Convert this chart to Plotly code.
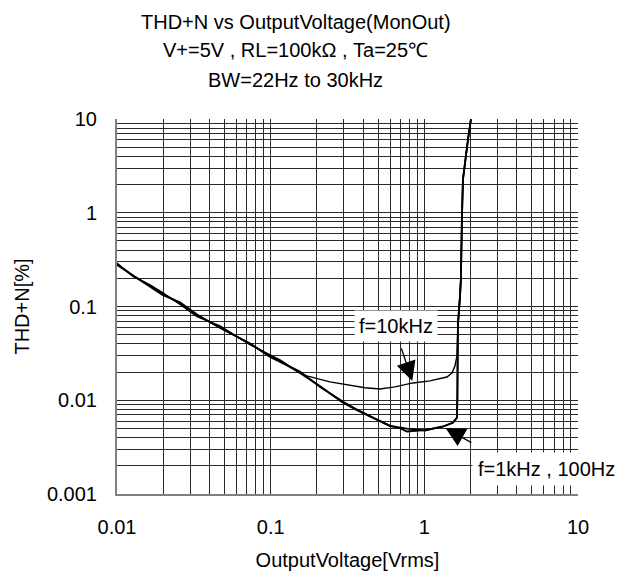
import numpy as np
import plotly.graph_objects as go

# Output voltage [Vrms] and THD+N [%] for each test frequency
v_1k = [0.01, 0.0127, 0.0164, 0.0199, 0.0257, 0.0332, 0.0468, 0.0733, 0.099, 0.115,
        0.155, 0.209, 0.295, 0.381, 0.491, 0.597, 0.694, 0.770, 1.01, 1.32,
        1.535, 1.63, 1.64, 1.654, 1.704, 1.73, 1.756, 1.783, 1.922, 2.01]
thd_1k = [0.285, 0.213, 0.167, 0.137, 0.108, 0.080, 0.060, 0.0397, 0.0296, 0.0262,
          0.0195, 0.0142, 0.0094, 0.00755, 0.00622, 0.00537, 0.00512, 0.00499, 0.00476, 0.00525,
          0.00578, 0.00653, 0.0106, 0.063, 0.122, 0.198, 0.854, 2.26, 5.99, 9.9]

v_100 = [0.01, 0.0127, 0.0164, 0.0199, 0.0257, 0.0332, 0.0468, 0.0733, 0.099, 0.115,
         0.155, 0.212, 0.295, 0.381, 0.491, 0.597, 0.694, 0.770, 1.01, 1.32,
         1.535, 1.63, 1.64, 1.654, 1.704, 1.73, 1.756, 1.783, 1.922, 2.01]
thd_100 = [0.278, 0.216, 0.164, 0.132, 0.111, 0.082, 0.059, 0.0405, 0.0290, 0.0256,
           0.0202, 0.0137, 0.0097, 0.00765, 0.00615, 0.00530, 0.00505, 0.00464, 0.00480, 0.00522,
           0.00575, 0.00650, 0.0106, 0.063, 0.122, 0.198, 0.854, 2.26, 5.99, 9.9]

v_10k = [0.01, 0.0127, 0.0164, 0.0199, 0.0257, 0.0332, 0.0468, 0.0733, 0.099, 0.115,
         0.155, 0.172, 0.243, 0.314, 0.411, 0.514, 0.644, 0.843, 1.087, 1.403,
         1.512, 1.582, 1.63, 1.654, 1.704, 1.73, 1.756, 1.783, 1.922, 2.01]
thd_10k = [0.290, 0.209, 0.170, 0.140, 0.105, 0.078, 0.062, 0.0392, 0.0304, 0.0270,
           0.0196, 0.0182, 0.0157, 0.0146, 0.0136, 0.0132, 0.0139, 0.0153, 0.0161, 0.0177,
           0.0195, 0.0232, 0.0296, 0.063, 0.122, 0.198, 0.854, 2.26, 5.99, 9.9]

x_ticks = [0.01, 0.1, 1, 10]
x_ticktext = ["0.01", "0.1", "1", "10"]
y_ticks = [0.001, 0.01, 0.1, 1, 10]
y_ticktext = ["0.001", "0.01", "0.1", "1", "10"]

title_lines = ["THD+N vs OutputVoltage(MonOut)",
               "V+=5V , RL=100kΩ , Ta=25℃",
               "BW=22Hz to 30kHz"]

FONT = "Liberation Sans, Arial, sans-serif"
GRID = "#2a2a2a"

fig = go.Figure()
fig.add_trace(go.Scatter(x=v_100, y=thd_100, mode="lines", name="f=100Hz",
                         line=dict(color="black", width=1.8)))
fig.add_trace(go.Scatter(x=v_1k, y=thd_1k, mode="lines", name="f=1kHz",
                         line=dict(color="black", width=1.8)))
fig.add_trace(go.Scatter(x=v_10k, y=thd_10k, mode="lines", name="f=10kHz",
                         line=dict(color="black", width=1.4)))

axis_common = dict(
    type="log",
    showgrid=True, gridcolor=GRID, gridwidth=1,
    minor=dict(dtick="D1", showgrid=True, gridcolor=GRID, gridwidth=1, ticks=""),
    ticks="",
    showline=True, linecolor="#808080", linewidth=2,
    zeroline=False,
    tickfont=dict(family=FONT, size=20, color="black"),
)

fig.update_xaxes(axis_common, range=[np.log10(0.01), np.log10(10)],
                 tickmode="array", tickvals=x_ticks, ticktext=x_ticktext,
                 ticklabelstandoff=14,
                 title=dict(text="OutputVoltage[Vrms]", standoff=16,
                            font=dict(family=FONT, size=20, color="black")))
fig.update_yaxes(axis_common, range=[np.log10(0.001), np.log10(10)],
                 tickmode="array", tickvals=y_ticks, ticktext=y_ticktext,
                 ticklabelstandoff=14,
                 title=dict(text="THD+N[%]", standoff=12,
                            font=dict(family=FONT, size=20, color="black")))

annotations = []
for txt, yp in zip(title_lines, [1.259, 1.183, 1.105]):
    annotations.append(dict(text=txt, xref="paper", yref="paper", x=0.388, y=yp,
                            xanchor="center", yanchor="middle", showarrow=False,
                            font=dict(family=FONT, size=20, color="black")))

# curve labels on white boxes
annotations.append(dict(text="f=10kHz", xref="paper", yref="paper", x=0.605, y=0.447,
                        xanchor="center", yanchor="middle", showarrow=False,
                        bgcolor="white", borderpad=4,
                        font=dict(family=FONT, size=20, color="black")))
annotations.append(dict(text="f=1kHz , 100Hz", xref="paper", yref="paper", x=0.77, y=0.066,
                        xanchor="left", yanchor="middle", showarrow=False,
                        bgcolor="white", borderpad=5,
                        font=dict(family=FONT, size=20, color="black")))

# arrows pointing at the curves
i10 = v_10k.index(0.843)
annotations.append(dict(text="", x=np.log10(v_10k[i10]), y=np.log10(thd_10k[i10]),
                        xref="x", yref="y", showarrow=True, ax=-12, ay=-36,
                        arrowhead=2, arrowsize=3, arrowwidth=1.3, arrowcolor="black",
                        standoff=2))
i1 = v_1k.index(1.32)
annotations.append(dict(text="", x=np.log10(v_1k[i1]), y=np.log10(thd_1k[i1]),
                        xref="x", yref="y", showarrow=True, ax=30, ay=17,
                        arrowhead=2, arrowsize=3, arrowwidth=1.3, arrowcolor="black",
                        standoff=3))

fig.update_layout(
    width=627, height=580,
    margin=dict(l=117, r=49, t=119, b=83),
    paper_bgcolor="white", plot_bgcolor="white",
    showlegend=False,
    annotations=annotations,
    font=dict(family=FONT, size=20, color="black"),
)

fig.write_html("out.html")
